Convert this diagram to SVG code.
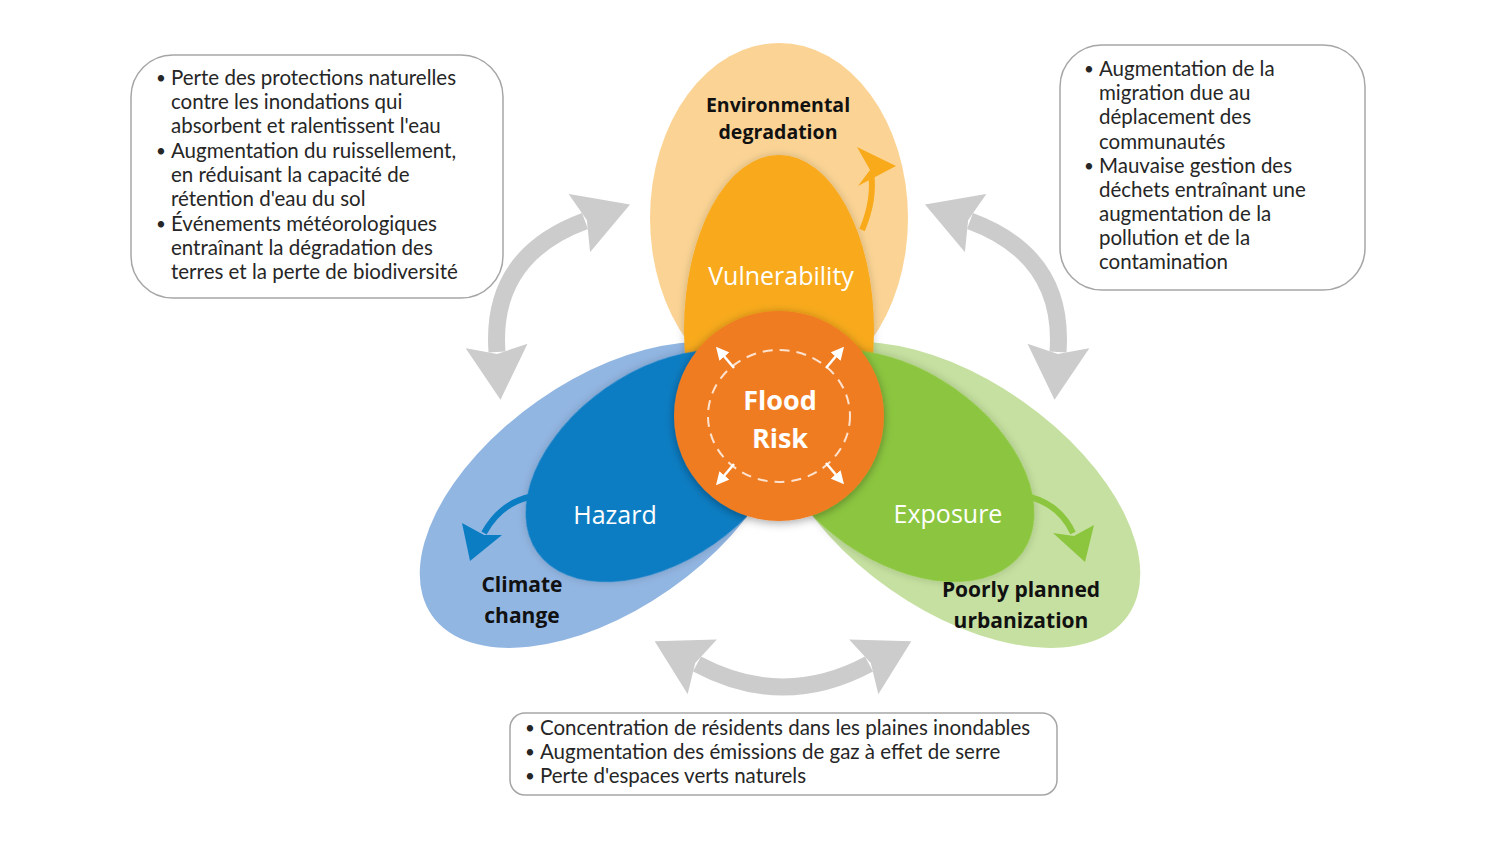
<svg xmlns="http://www.w3.org/2000/svg" width="1500" height="844" viewBox="0 0 1500 844">
<defs>
<style>
.box{fill:#fff;stroke:#a6a6a6;stroke-width:1.5}
.bt{font-family:Lato,"Open Sans",sans-serif;font-size:20.5px;fill:#262626}
.bu{font-family:Lato,"Open Sans",sans-serif;font-size:17px;fill:#262626}
.lbl{font-family:"Open Sans",Lato,sans-serif;font-weight:bold;font-size:21px;fill:#111;text-anchor:middle}
.env{font-size:19.5px}
.wl{font-family:"Open Sans",Lato,sans-serif;font-size:25px;fill:#fff;text-anchor:middle}
.fr{font-family:"Open Sans",Lato,sans-serif;font-weight:bold;font-size:27px;fill:#fff;text-anchor:middle}
.grey{fill:none;stroke:#cccccc;stroke-width:17;marker-start:url(#gh);marker-end:url(#gh)}
.wa{fill:none;stroke:#fff;stroke-width:2.5;marker-end:url(#wh)}
</style>
<marker id="gh" markerUnits="userSpaceOnUse" markerWidth="54" markerHeight="62" viewBox="0 0 54 62" refX="6" refY="31" orient="auto-start-reverse">
<path d="M0,0 L54,31 L0,62 L8,31 Z" fill="#cccccc"/>
</marker>
<marker id="wh" markerUnits="userSpaceOnUse" markerWidth="13" markerHeight="13" viewBox="0 0 12 12" refX="2" refY="6" orient="auto">
<path d="M0,0 L12,6 L0,12 Z" fill="#fff"/>
</marker>
<filter id="sh" x="-20%" y="-20%" width="140%" height="140%">
<feDropShadow dx="0" dy="2" stdDeviation="5" flood-color="#000" flood-opacity="0.35"/>
</filter>
<filter id="sh2" x="-20%" y="-20%" width="140%" height="140%">
<feDropShadow dx="0" dy="0" stdDeviation="4" flood-color="#000" flood-opacity="0.18"/>
</filter>
</defs>

<g id="exposure-outer"><ellipse cx="956" cy="495" rx="210" ry="115" transform="rotate(35 956 495)" fill="#c5e0a0"/></g>
<g id="hazard-outer"><ellipse cx="604" cy="495" rx="210" ry="115" transform="rotate(-35 604 495)" fill="#92b6e2"/></g>
<g id="vulnerability-outer"><ellipse cx="779" cy="218" rx="129" ry="175" fill="#fbd495"/></g>
<g id="vulnerability"><ellipse cx="779" cy="330" rx="95" ry="175" fill="#f8aa1b" filter="url(#sh2)"/>
<text class="wl" x="781" y="285">Vulnerability</text></g>
<g id="exposure"><ellipse cx="900" cy="466" rx="150" ry="95" transform="rotate(35 900 466)" fill="#8cc63f" filter="url(#sh2)"/>
<text class="wl" x="948" y="523">Exposure</text></g>
<g id="hazard"><ellipse cx="660" cy="466" rx="150" ry="95" transform="rotate(-35 660 466)" fill="#0b7dc3" filter="url(#sh2)"/>
<text class="wl" x="615" y="524">Hazard</text></g>

<g id="environmental-degradation"><text class="lbl env" x="778" y="112">Environmental</text><text class="lbl env" x="778" y="139">degradation</text></g>
<g id="climate-change"><text class="lbl" x="522" y="592">Climate</text><text class="lbl" x="522" y="623">change</text></g>
<g id="poorly-planned-urbanization"><text class="lbl" x="1021" y="597">Poorly planned</text><text class="lbl" x="1021" y="628">urbanization</text></g>

<g id="flood-risk">
<circle cx="779" cy="416" r="105" fill="#f07b22" filter="url(#sh)"/>
<ellipse cx="779" cy="416" rx="71" ry="66" fill="none" stroke="#fde3cf" stroke-width="2" stroke-dasharray="10 7"/>
<text class="fr" x="780" y="410">Flood</text>
<text class="fr" x="780" y="448">Risk</text>
</g>

<g id="connectors">
<path class="grey" d="M497,352 Q490,256 585,221"/>
<path class="grey" d="M1058,352 Q1065,256 970,221"/>
<path class="grey" d="M697,664 Q783,710 869,664"/>
<path class="wa" d="M734,368 L723,355"/>
<path class="wa" d="M826,368 L837,355"/>
<path class="wa" d="M734,464 L723,477"/>
<path class="wa" d="M826,463 L837,476"/>
<path d="M862,230 Q875,200 871,172" fill="none" stroke="#f8aa1b" stroke-width="6"/>
<path d="M857,147 L896,166 L858,186 L870,170 Z" fill="#f8aa1b"/>
<path d="M529,497 Q500,504 484,533" fill="none" stroke="#0b7dc3" stroke-width="6"/>
<path d="M462,523 L470,561 L502,535 L484,535 Z" fill="#0b7dc3"/>
<path d="M1030,497 Q1060,505 1073,533" fill="none" stroke="#8cc63f" stroke-width="6"/>
<path d="M1053,533 L1085,562 L1094,525 L1074,536 Z" fill="#8cc63f"/>
</g>

<g id="box-left">
<rect class="box" x="131" y="55" width="372" height="243" rx="42"/>
<text class="bu" x="156" y="84">•</text><text class="bt" x="171" y="85">Perte des protections naturelles</text>
<text class="bt" x="171" y="109">contre les inondations qui</text>
<text class="bt" x="171" y="133">absorbent et ralentissent l'eau</text>
<text class="bu" x="156" y="157">•</text><text class="bt" x="171" y="158">Augmentation du ruissellement,</text>
<text class="bt" x="171" y="182">en réduisant la capacité de</text>
<text class="bt" x="171" y="206">rétention d'eau du sol</text>
<text class="bu" x="156" y="230">•</text><text class="bt" x="171" y="231">Événements météorologiques</text>
<text class="bt" x="171" y="255">entraînant la dégradation des</text>
<text class="bt" x="171" y="279">terres et la perte de biodiversité</text>
</g>

<g id="box-right">
<rect class="box" x="1060" y="45" width="305" height="245" rx="42"/>
<text class="bu" x="1084" y="75">•</text><text class="bt" x="1099" y="76">Augmentation de la</text>
<text class="bt" x="1099" y="100">migration due au</text>
<text class="bt" x="1099" y="124">déplacement des</text>
<text class="bt" x="1099" y="149">communautés</text>
<text class="bu" x="1084" y="172">•</text><text class="bt" x="1099" y="173">Mauvaise gestion des</text>
<text class="bt" x="1099" y="197">déchets entraînant une</text>
<text class="bt" x="1099" y="221">augmentation de la</text>
<text class="bt" x="1099" y="245">pollution et de la</text>
<text class="bt" x="1099" y="269">contamination</text>
</g>

<g id="box-bottom">
<rect class="box" x="510" y="713" width="547" height="82" rx="15"/>
<text class="bu" x="525" y="734">•</text><text class="bt" x="540" y="735">Concentration de résidents dans les plaines inondables</text>
<text class="bu" x="525" y="758">•</text><text class="bt" x="540" y="759">Augmentation des émissions de gaz à effet de serre</text>
<text class="bu" x="525" y="782">•</text><text class="bt" x="540" y="783">Perte d'espaces verts naturels</text>
</g>
</svg>
